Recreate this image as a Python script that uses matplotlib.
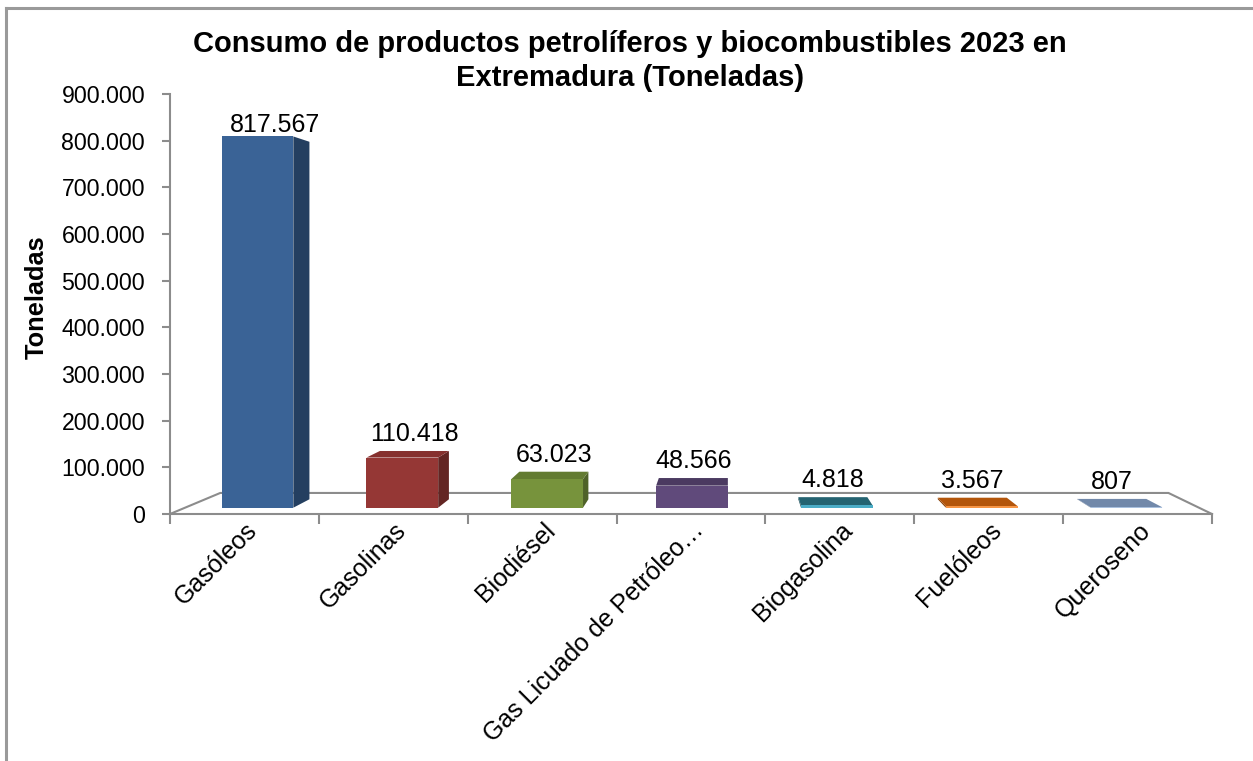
import matplotlib
matplotlib.use("Agg")
import matplotlib.pyplot as plt
from matplotlib.patches import Polygon
from matplotlib.lines import Line2D
import matplotlib.transforms as mtransforms

plt.rcParams["font.family"] = ["Liberation Sans", "DejaVu Sans"]

# ---- data -------------------------------------------------------------
categories = ["Gasóleos", "Gasolinas", "Biodiésel", "Gas Licuado de Petróleo…",
              "Biogasolina", "Fuelóleos", "Queroseno"]
values = [817567, 110418, 63023, 48566, 4818, 3567, 807]
y_ticks = [0, 100000, 200000, 300000, 400000, 500000, 600000, 700000, 800000, 900000]
title_lines = ["Consumo de productos petrolíferos y biocombustibles 2023 en",
               "Extremadura (Toneladas)"]
y_label = "Toneladas"

# face colours: front, top, side
front_colors = ["#3A6396", "#953735", "#77933C", "#604A7B", "#4BACC6", "#F79646", "#A9C0DE"]
top_colors = ["#335A8A", "#86302E", "#637B31", "#4B3A61", "#246371", "#B3560C", "#7289AA"]
side_colors = ["#243F60", "#632523", "#4F6228", "#3F3151", "#1D4F5A", "#8A4208", "#5A6E8A"]


def thousands(v):
    return f"{v:,}".replace(",", ".")


# ---- figure / axes ----------------------------------------------------
W, H = 1253, 761
fig = plt.figure(figsize=(W / 100, H / 100), dpi=100)
fig.patch.set_facecolor("white")

ax = fig.add_axes([170 / W, (H - 514) / H, 1042 / W, 420 / H])
ax.set_xlim(0, len(categories))
ax.set_ylim(0, y_ticks[-1])
ax.set_facecolor("none")

GRAY = "#8C8C8C"
for side in ("top", "right"):
    ax.spines[side].set_visible(False)
for side in ("left", "bottom"):
    ax.spines[side].set_color(GRAY)
    ax.spines[side].set_linewidth(1.5)

# pseudo-perspective: depth z in [0, 1] shrinks towards a vanishing point
VX, VY, K = 3.75, 501000, 0.09


def proj(x, y, z):
    s = 1 - K * z
    return VX + (x - VX) * s, VY + (y - VY) * s


# floor outline (left, back and right edges)
n = len(categories)
floor = [proj(0, 0, 0), proj(0, 0, 1), proj(n, 0, 1), proj(n, 0, 0)]
ax.plot([p[0] for p in floor], [p[1] for p in floor], color=GRAY, lw=1.5,
        clip_on=False, zorder=1.5, solid_joinstyle="miter")

# bars
BW, Z0, Z1 = 0.495, 0.30, 0.70
for i, v in enumerate(values):
    x0, x1 = i + 0.5 - BW / 2, i + 0.5 + BW / 2
    if x1 < VX:
        side = [proj(x1, 0, Z0), proj(x1, 0, Z1), proj(x1, v, Z1), proj(x1, v, Z0)]
    elif x0 > VX:
        side = [proj(x0, 0, Z0), proj(x0, 0, Z1), proj(x0, v, Z1), proj(x0, v, Z0)]
    else:
        side = None
    if side is not None:
        ax.add_patch(Polygon(side, closed=True, facecolor=side_colors[i],
                             edgecolor="none", zorder=3, clip_on=False))
    if v < VY:
        top = [proj(x0, v, Z0), proj(x1, v, Z0), proj(x1, v, Z1), proj(x0, v, Z1)]
        ax.add_patch(Polygon(top, closed=True, facecolor=top_colors[i],
                             edgecolor="none", zorder=3, clip_on=False))
    front = [proj(x0, 0, Z0), proj(x1, 0, Z0), proj(x1, v, Z0), proj(x0, v, Z0)]
    ax.add_patch(Polygon(front, closed=True, facecolor=front_colors[i],
                         edgecolor="none", zorder=3.1, clip_on=False))

    lx, ly = proj(i + 0.5, v, Z1)
    ax.annotate(thousands(v), (lx, ly), xytext=(0, 10), textcoords="offset pixels",
                ha="center", va="baseline", fontsize=18, color="black",
                annotation_clip=False, zorder=4)

# value axis
ax.set_yticks(y_ticks, [thousands(t) for t in y_ticks])
ax.tick_params(axis="y", length=6, width=1.5, color=GRAY, pad=12,
               labelsize=16.7, direction="out")

# category axis: boundary ticks, centred labels
ax.set_xticks(range(n + 1), [""] * (n + 1))
ax.set_xticks([i + 0.5 for i in range(n)], categories, minor=True)
ax.tick_params(axis="x", which="major", length=7, width=1.5, color=GRAY, direction="out")
ax.tick_params(axis="x", which="minor", length=0, pad=9, labelsize=18)
shift = mtransforms.ScaledTranslation(9 / 100, 0, fig.dpi_scale_trans)
for t in ax.get_xticklabels(minor=True):
    t.set_rotation(45)
    t.set_ha("right")
    t.set_va("center")
    t.set_rotation_mode("anchor")
    t.set_transform(t.get_transform() + shift)

# axis title and chart title
fig.text(44 / W, 1 - 297 / H, y_label, rotation=90, rotation_mode="anchor",
         ha="center", va="baseline", fontsize=18.3, fontweight="bold")
fig.text(630 / W, 1 - 52 / H, title_lines[0], ha="center", va="baseline",
         fontsize=21, fontweight="bold")
fig.text(630 / W, 1 - 86 / H, title_lines[1], ha="center", va="baseline",
         fontsize=21, fontweight="bold")

# chart frame (top and left edges)
frame = dict(transform=fig.transFigure, color="#9A9A9A", lw=2.2)
fig.add_artist(Line2D([6 / W, 6 / W], [0, 1 - 8 / H], **frame))
fig.add_artist(Line2D([6 / W, 1], [1 - 8 / H, 1 - 8 / H], **frame))

fig.savefig("out.png", dpi=100)
